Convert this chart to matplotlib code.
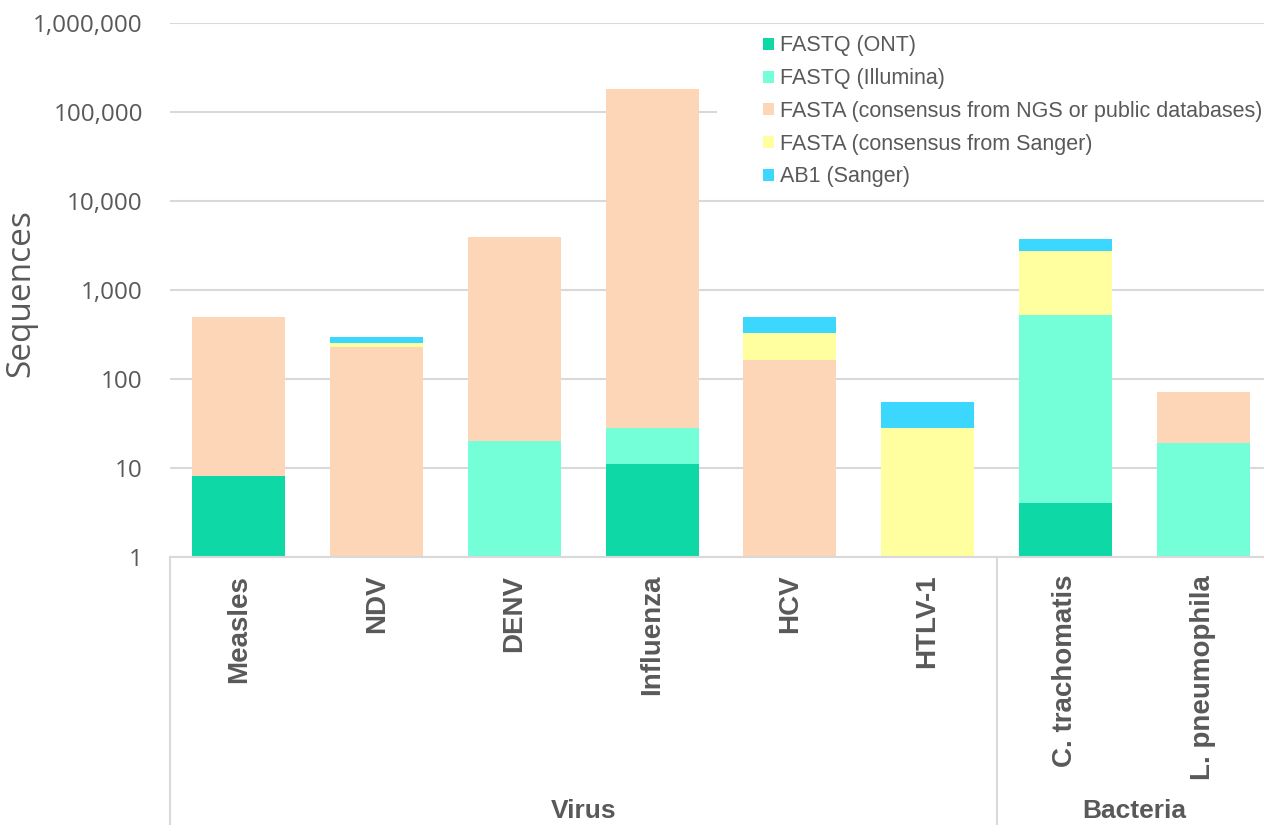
import numpy as np
import matplotlib
matplotlib.use("Agg")
import matplotlib.pyplot as plt
from matplotlib.patches import Rectangle
from matplotlib.ticker import FuncFormatter, NullLocator
import matplotlib.transforms as mtransforms

# ---- data -------------------------------------------------------------
organisms = ["Measles", "NDV", "DENV", "Influenza", "HCV", "HTLV-1",
             "C. trachomatis", "L. pneumophila"]
groups = ["Virus", "Bacteria"]
group_sizes = [6, 2]

series_names = ["FASTQ (ONT)", "FASTQ (Illumina)",
                "FASTA (consensus from NGS or public databases)",
                "FASTA (consensus from Sanger)", "AB1 (Sanger)"]
fastq_ont      = [8,   0,   0,    11,     0,   0,  4,    0]
fastq_illumina = [0,   0,   20,   17,     0,   0,  516,  19]
fasta_ngs      = [490, 230, 3860, 180000, 162, 0,  0,    51]
fasta_sanger   = [0,   20,  0,    0,      162, 28, 2200, 0]
ab1_sanger     = [0,   42,  0,    0,      169, 27, 960,  0]

series = [fastq_ont, fastq_illumina, fasta_ngs, fasta_sanger, ab1_sanger]
colors = ["#0DD8A6", "#75FFD8", "#FDD5B7", "#FFFFA0", "#3CD7FF"]

# ---- styling ----------------------------------------------------------
W, H = 1264, 825
grey_text = "#595959"
grid_col = "#D9D9D9"

fig = plt.figure(figsize=(W / 100, H / 100), dpi=100)
ax_left, ax_right, ax_top, ax_bottom = 170, 1272, 22.7, 556.7
ax = fig.add_axes([ax_left / W, 1 - ax_bottom / H,
                   (ax_right - ax_left) / W, (ax_bottom - ax_top) / H])

x = np.arange(len(organisms))
bottom = np.zeros(len(organisms))
bars = []
for vals, col, name in zip(series, colors, series_names):
    vals = np.asarray(vals, dtype=float)
    b = ax.bar(x, vals, width=0.675, bottom=bottom, color=col,
               linewidth=0, label=name, zorder=3)
    bars.append(b)
    bottom = bottom + vals

ax.set_yscale("log")
ax.set_ylim(1, 1e6)
ax.set_xlim(-0.5, len(organisms) - 0.5)
ax.yaxis.set_minor_locator(NullLocator())
ax.yaxis.set_major_formatter(FuncFormatter(lambda v, p: f"{v:,.0f}"))
ax.tick_params(axis="y", length=0, pad=19.5, labelsize=17.5,
               labelcolor=grey_text)
for lab in ax.get_yticklabels():
    lab.set_fontfamily("Open Sans")
ax.set_xticks([])
ax.grid(axis="y", color=grid_col, linewidth=1.5, zorder=0)
ax.set_axisbelow(True)
for side in ["top", "right", "left"]:
    ax.spines[side].set_visible(False)
ax.spines["bottom"].set_color(grid_col)
ax.spines["bottom"].set_linewidth(1.5)
ax.spines["bottom"].set_zorder(4)

# category labels, rotated
for i, name in enumerate(organisms):
    ax.annotate(name, xy=(i, 0), xycoords=("data", "axes fraction"),
                xytext=(0, -13), textcoords="offset points",
                rotation=90, ha="center", va="top", fontsize=20,
                fontweight="bold", color=grey_text,
                family="Liberation Sans")

# group separators and group labels
trans = mtransforms.blended_transform_factory(ax.transData, ax.transAxes)
depth = -(H - ax_bottom) / (ax_bottom - ax_top)
edges = np.concatenate([[0], np.cumsum(group_sizes)]) - 0.5
for e in edges:
    ax.plot([e, e], [0, depth], transform=trans, color=grid_col,
            linewidth=1.5, clip_on=False)
label_y = -(811 - ax_bottom) / (ax_bottom - ax_top)
for g, lo, hi in zip(groups, edges[:-1], edges[1:]):
    ax.text((lo + hi) / 2, label_y, g, transform=trans, ha="center",
            va="center", fontsize=19, fontweight="bold", color=grey_text,
            family="Liberation Sans")

# y label
fig.text(21 / W, 1 - 293 / H, "Sequences", rotation=90, ha="center",
         va="center", fontsize=24, color=grey_text, family="Open Sans")

# white backing behind the legend
fig.patches.append(Rectangle((717 / W, 1 - 192 / H), (W - 717) / W,
                             (192 - 30) / H, transform=fig.transFigure,
                             facecolor="white", edgecolor="none", zorder=1))

leg = fig.legend(handles=bars, labels=series_names, loc="upper left",
                 bbox_to_anchor=(763 / W, 1 - 35.5 / H), frameon=False,
                 borderaxespad=0, borderpad=0, handlelength=0.52,
                 handleheight=0.48, handletextpad=0.25, labelspacing=0.545,
                 prop={"family": "Liberation Sans", "size": 15.5})
for t in leg.get_texts():
    t.set_color(grey_text)
leg.set_zorder(5)

fig.savefig("out.png", dpi=100)
